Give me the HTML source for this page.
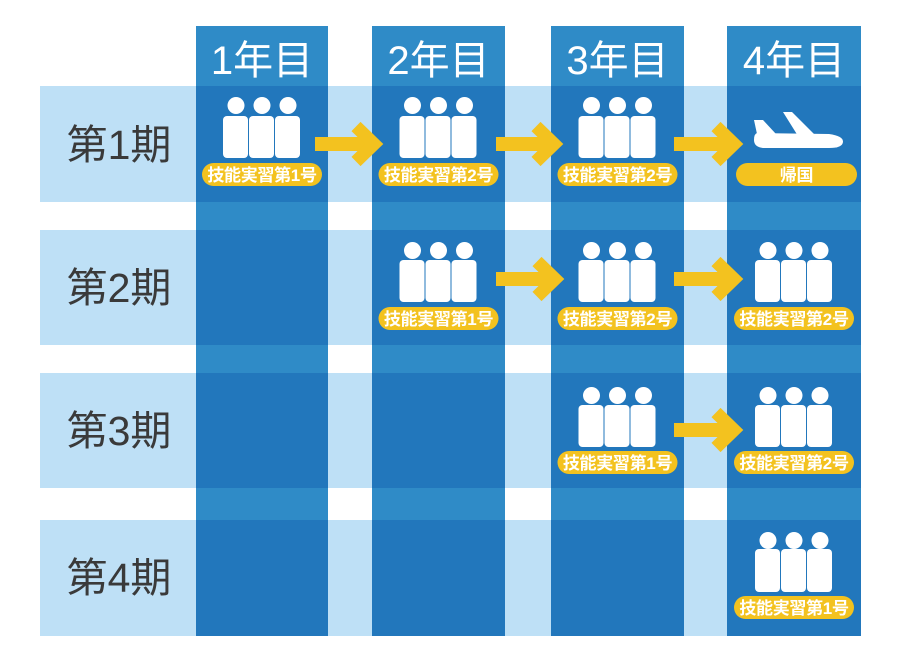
<!DOCTYPE html>
<html><head><meta charset="utf-8">
<style>
html,body{margin:0;padding:0;background:#fff;}
svg{display:block;}
text{font-family:"Liberation Sans","Noto Sans CJK JP",sans-serif;}
.hd{font-size:40px;fill:#fff;text-anchor:middle;}
.rl{font-size:41px;fill:#3a3a3a;text-anchor:middle;}
.pt{font-size:17px;font-weight:bold;fill:#fff;text-anchor:middle;letter-spacing:-0.3px;}
</style></head>
<body>
<svg width="900" height="667" viewBox="0 0 900 667" xmlns="http://www.w3.org/2000/svg">
<rect x="0" y="0" width="900" height="667" fill="#fff"/>
<g fill="#2f8bc7">
<rect x="196" y="26" width="132" height="610"/>
<rect x="372" y="26" width="133" height="610"/>
<rect x="551" y="26" width="133" height="610"/>
<rect x="727" y="26" width="134" height="610"/>
</g>
<g fill="#bee0f6">
<rect x="40" y="86" width="821" height="116"/>
<rect x="40" y="230" width="821" height="115"/>
<rect x="40" y="373" width="821" height="115"/>
<rect x="40" y="520" width="821" height="116"/>
</g>
<g fill="#2277bc">
<rect x="196" y="86" width="132" height="116"/><rect x="372" y="86" width="133" height="116"/><rect x="551" y="86" width="133" height="116"/><rect x="727" y="86" width="134" height="116"/>
<rect x="196" y="230" width="132" height="115"/><rect x="372" y="230" width="133" height="115"/><rect x="551" y="230" width="133" height="115"/><rect x="727" y="230" width="134" height="115"/>
<rect x="196" y="373" width="132" height="115"/><rect x="372" y="373" width="133" height="115"/><rect x="551" y="373" width="133" height="115"/><rect x="727" y="373" width="134" height="115"/>
<rect x="196" y="520" width="132" height="116"/><rect x="372" y="520" width="133" height="116"/><rect x="551" y="520" width="133" height="116"/><rect x="727" y="520" width="134" height="116"/>
</g>
<text class="hd" x="262" y="74">1年目</text>
<text class="hd" x="438.5" y="74">2年目</text>
<text class="hd" x="617.5" y="74">3年目</text>
<text class="hd" x="794" y="74">4年目</text>
<text class="rl" x="119" y="159">第1期</text>
<text class="rl" x="119" y="302">第2期</text>
<text class="rl" x="119" y="445">第3期</text>
<text class="rl" x="119" y="592">第4期</text>

<g fill="#f3c21f" stroke="none">
<rect x="315" y="137" width="51" height="14"/>
<rect x="496" y="137" width="50" height="14"/>
<rect x="674" y="137" width="52" height="14"/>
<rect x="496" y="272" width="51" height="14"/>
<rect x="674" y="272" width="52" height="14"/>
<rect x="674" y="423" width="52" height="14"/>
</g>
<g fill="none" stroke="#f3c21f" stroke-width="13" stroke-linejoin="miter" stroke-miterlimit="4">
<polyline points="356,126.5 374,144 356,161.5"/>
<polyline points="536,126.5 554,144 536,161.5"/>
<polyline points="716,126.5 734,144 716,161.5"/>
<polyline points="537,261.5 555,279 537,296.5"/>
<polyline points="716,261.5 734,279 716,296.5"/>
<polyline points="716,412.5 734,430 716,447.5"/>
</g>

<g fill="#fff">
<g transform="translate(262,97)"><circle cx="-26" cy="8.5" r="8.5"/><circle cx="0" cy="8.5" r="8.5"/><circle cx="26" cy="8.5" r="8.5"/><rect x="-39" y="19" width="25" height="42" rx="4"/><rect x="-13" y="19" width="25" height="42" rx="4"/><rect x="13" y="19" width="25" height="42" rx="4"/></g>
<g transform="translate(438.5,97)"><circle cx="-26" cy="8.5" r="8.5"/><circle cx="0" cy="8.5" r="8.5"/><circle cx="26" cy="8.5" r="8.5"/><rect x="-39" y="19" width="25" height="42" rx="4"/><rect x="-13" y="19" width="25" height="42" rx="4"/><rect x="13" y="19" width="25" height="42" rx="4"/></g>
<g transform="translate(617.5,97)"><circle cx="-26" cy="8.5" r="8.5"/><circle cx="0" cy="8.5" r="8.5"/><circle cx="26" cy="8.5" r="8.5"/><rect x="-39" y="19" width="25" height="42" rx="4"/><rect x="-13" y="19" width="25" height="42" rx="4"/><rect x="13" y="19" width="25" height="42" rx="4"/></g>
<g transform="translate(438.5,242)"><circle cx="-26" cy="8.5" r="8.5"/><circle cx="0" cy="8.5" r="8.5"/><circle cx="26" cy="8.5" r="8.5"/><rect x="-39" y="18" width="25" height="42" rx="4"/><rect x="-13" y="18" width="25" height="42" rx="4"/><rect x="13" y="18" width="25" height="42" rx="4"/></g>
<g transform="translate(617.5,242)"><circle cx="-26" cy="8.5" r="8.5"/><circle cx="0" cy="8.5" r="8.5"/><circle cx="26" cy="8.5" r="8.5"/><rect x="-39" y="18" width="25" height="42" rx="4"/><rect x="-13" y="18" width="25" height="42" rx="4"/><rect x="13" y="18" width="25" height="42" rx="4"/></g>
<g transform="translate(794,242)"><circle cx="-26" cy="8.5" r="8.5"/><circle cx="0" cy="8.5" r="8.5"/><circle cx="26" cy="8.5" r="8.5"/><rect x="-39" y="18" width="25" height="42" rx="4"/><rect x="-13" y="18" width="25" height="42" rx="4"/><rect x="13" y="18" width="25" height="42" rx="4"/></g>
<g transform="translate(617.5,387)"><circle cx="-26" cy="8.5" r="8.5"/><circle cx="0" cy="8.5" r="8.5"/><circle cx="26" cy="8.5" r="8.5"/><rect x="-39" y="18" width="25" height="42" rx="4"/><rect x="-13" y="18" width="25" height="42" rx="4"/><rect x="13" y="18" width="25" height="42" rx="4"/></g>
<g transform="translate(794,387)"><circle cx="-26" cy="8.5" r="8.5"/><circle cx="0" cy="8.5" r="8.5"/><circle cx="26" cy="8.5" r="8.5"/><rect x="-39" y="18" width="25" height="42" rx="4"/><rect x="-13" y="18" width="25" height="42" rx="4"/><rect x="13" y="18" width="25" height="42" rx="4"/></g>
<g transform="translate(794,532)"><circle cx="-26" cy="8.5" r="8.5"/><circle cx="0" cy="8.5" r="8.5"/><circle cx="26" cy="8.5" r="8.5"/><rect x="-39" y="17" width="25" height="43" rx="4"/><rect x="-13" y="17" width="25" height="43" rx="4"/><rect x="13" y="17" width="25" height="43" rx="4"/></g>
<path d="M757 133 L829 134 Q843 136 843 141.5 Q843 148 829 148 L763 148 Q754 147 754 140 Q754 134 757 133 Z"/>
<polygon points="754,120 763,120 776,134 757,134"/>
<polygon points="783,112 792,112 816,136 798,136"/>
</g>

<g fill="#f3c21f">
<rect x="202" y="163" width="120" height="23" rx="11.5"/>
<rect x="378.5" y="163" width="120" height="23" rx="11.5"/>
<rect x="557.5" y="163" width="120" height="23" rx="11.5"/>
<rect x="736" y="163" width="121" height="23" rx="11.5"/>
<rect x="378.5" y="307" width="120" height="23" rx="11.5"/>
<rect x="557.5" y="307" width="120" height="23" rx="11.5"/>
<rect x="734" y="307" width="120" height="23" rx="11.5"/>
<rect x="557.5" y="451" width="120" height="23" rx="11.5"/>
<rect x="734" y="451" width="120" height="23" rx="11.5"/>
<rect x="734" y="596" width="120" height="23" rx="11.5"/>
</g>
<text class="pt" x="262" y="181">技能実習第1号</text>
<text class="pt" x="438.5" y="181">技能実習第2号</text>
<text class="pt" x="617.5" y="181">技能実習第2号</text>
<text class="pt" x="796.5" y="181">帰国</text>
<text class="pt" x="438.5" y="325">技能実習第1号</text>
<text class="pt" x="617.5" y="325">技能実習第2号</text>
<text class="pt" x="794" y="325">技能実習第2号</text>
<text class="pt" x="617.5" y="469">技能実習第1号</text>
<text class="pt" x="794" y="469">技能実習第2号</text>
<text class="pt" x="794" y="614">技能実習第1号</text>
</svg>
</body></html>
